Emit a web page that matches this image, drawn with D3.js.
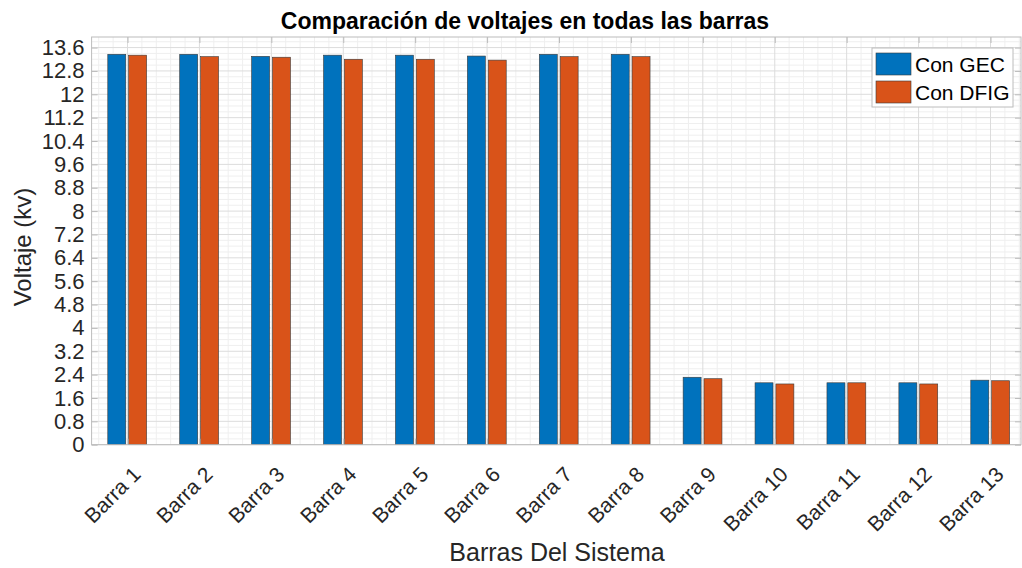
<!DOCTYPE html>
<html>
<head>
<meta charset="utf-8">
<script src="https://cdn.jsdelivr.net/npm/d3@7"></script>
<style>
  html, body { margin: 0; padding: 0; background: #fff; overflow: hidden; }
  svg { display: block; font-family: 'Liberation Sans', Arial, sans-serif; }
</style>
</head>
<body>
<svg width="1022" height="568"></svg>
<script>
const categories = ['Barra 1', 'Barra 2', 'Barra 3', 'Barra 4', 'Barra 5', 'Barra 6', 'Barra 7',
  'Barra 8', 'Barra 9', 'Barra 10', 'Barra 11', 'Barra 12', 'Barra 13']
const conGEC = [13.37, 13.37, 13.30, 13.34, 13.34, 13.31, 13.37, 13.37, 2.31, 2.12, 2.12, 2.12, 2.21]
const conDFIG = [13.34, 13.29, 13.27, 13.20, 13.20, 13.17, 13.29, 13.29, 2.26, 2.08, 2.12, 2.08, 2.19]
const seriesNames = ['Con GEC', 'Con DFIG']
const yTicks = d3.range(0, 13.61, 0.8).map((d) => +d.toFixed(1))

const svg = d3.select('svg')
const colors = ['#0072BD', '#D95319']

// axes box
const box = { left: 91.6, right: 1021, top: 37, bottom: 444.7 }

const x = d3.scaleLinear().domain([1, 13]).range([127.5, 990.5])
const y = d3.scaleLinear().domain([0, 14]).range([box.bottom, box.bottom - 14 * 29.2])

const plot = svg.append('g')
plot.append('rect')
  .attr('x', box.left).attr('y', box.top)
  .attr('width', box.right - box.left).attr('height', box.bottom - box.top)
  .attr('fill', '#fff')

// minor grid
const xMinor = d3.range(0.6, 13.45, 0.2).filter((d) => Math.abs(d - Math.round(d)) > 0.01)
const yMinor = d3.range(0.2, 14, 0.2).filter((d) => Math.abs(d / 0.8 - Math.round(d / 0.8)) > 0.01)
plot.append('g').selectAll('line').data(xMinor).join('line')
  .attr('x1', (d) => x(d)).attr('x2', (d) => x(d))
  .attr('y1', box.top).attr('y2', box.bottom)
  .attr('stroke', '#efefef').attr('stroke-width', 1)
plot.append('g').selectAll('line').data(yMinor).join('line')
  .attr('x1', box.left).attr('x2', box.right)
  .attr('y1', (d) => y(d)).attr('y2', (d) => y(d))
  .attr('stroke', '#efefef').attr('stroke-width', 1)

// major grid
plot.append('g').selectAll('line').data(d3.range(1, 14)).join('line')
  .attr('x1', (d) => x(d)).attr('x2', (d) => x(d))
  .attr('y1', box.top).attr('y2', box.bottom)
  .attr('stroke', '#dcdcdc').attr('stroke-width', 1)
plot.append('g').selectAll('line').data(yTicks).join('line')
  .attr('x1', box.left).attr('x2', box.right)
  .attr('y1', (d) => y(d)).attr('y2', (d) => y(d))
  .attr('stroke', '#dcdcdc').attr('stroke-width', 1)

// bars
const barW = x(1.25) - x(1)
const offsets = [-0.149, 0.141]
const series = [conGEC, conDFIG]
series.forEach((vals, s) => {
  plot.append('g').selectAll('rect').data(vals).join('rect')
    .attr('x', (d, i) => x(i + 1 + offsets[s]) - barW / 2)
    .attr('y', (d) => y(d))
    .attr('width', barW)
    .attr('height', (d) => y(0) - y(d))
    .attr('fill', colors[s])
    .attr('stroke', '#3a3a3a').attr('stroke-width', 0.6)
})

// box and ticks
const axisColor = '#bcbcbc'
plot.append('rect')
  .attr('x', box.left).attr('y', box.top)
  .attr('width', box.right - box.left).attr('height', box.bottom - box.top)
  .attr('fill', 'none').attr('stroke', axisColor).attr('stroke-width', 1)

const yAxis = d3.axisLeft(y).tickValues(yTicks).tickSize(-6).tickPadding(7)
  .tickFormat((d) => d3.format('~g')(d))
const ya = svg.append('g').attr('transform', `translate(${box.left},0)`).call(yAxis)
ya.select('.domain').remove()
ya.selectAll('line').attr('stroke', axisColor)
ya.selectAll('text').attr('fill', '#262626').style('font-size', '22px')

const yRight = svg.append('g').attr('transform', `translate(${box.right},0)`)
  .call(d3.axisRight(y).tickValues(yTicks).tickSize(-6).tickFormat(''))
yRight.select('.domain').remove()
yRight.selectAll('line').attr('stroke', axisColor)

const xTop = svg.append('g').attr('transform', `translate(0,${box.top})`)
  .call(d3.axisTop(x).tickValues(d3.range(1, 14)).tickSize(-6).tickFormat(''))
xTop.select('.domain').remove()
xTop.selectAll('line').attr('stroke', axisColor)

const xAxis = d3.axisBottom(x).tickValues(d3.range(1, 14)).tickSize(-6)
  .tickFormat((d) => categories[d - 1])
const xa = svg.append('g').attr('transform', `translate(0,${box.bottom})`).call(xAxis)
xa.select('.domain').remove()
xa.selectAll('line').attr('stroke', axisColor)
xa.selectAll('text')
  .attr('fill', '#262626').style('font-size', '21px')
  .attr('text-anchor', 'end')
  .attr('dy', null).attr('y', null)
  .attr('transform', 'translate(14,31) rotate(-45)')

// titles
svg.append('text')
  .attr('x', 525).attr('y', 29)
  .attr('text-anchor', 'middle')
  .attr('font-weight', 'bold').style('font-size', '23px')
  .attr('fill', '#000')
  .text('Comparación de voltajes en todas las barras')

svg.append('text')
  .attr('x', 557).attr('y', 561)
  .attr('text-anchor', 'middle').style('font-size', '25px')
  .attr('fill', '#262626')
  .text('Barras Del Sistema')

svg.append('text')
  .attr('transform', `translate(31,247) rotate(-90)`)
  .attr('text-anchor', 'middle').style('font-size', '24px')
  .attr('fill', '#262626')
  .text('Voltaje (kv)')

// legend
const legend = svg.append('g').attr('transform', 'translate(872,48)')
legend.append('rect')
  .attr('width', 141).attr('height', 59)
  .attr('fill', '#fff').attr('stroke', '#bcbcbc')
seriesNames.forEach((name, i) => {
  const g = legend.append('g').attr('transform', `translate(4,${5 + i * 28})`)
  g.append('rect').attr('width', 35).attr('height', 22)
    .attr('fill', colors[i]).attr('stroke', '#3a3a3a').attr('stroke-width', 0.6)
  g.append('text').attr('x', 39).attr('y', 18.5)
    .style('font-size', '21px').attr('fill', '#000').text(name)
})
</script>
</body>
</html>
